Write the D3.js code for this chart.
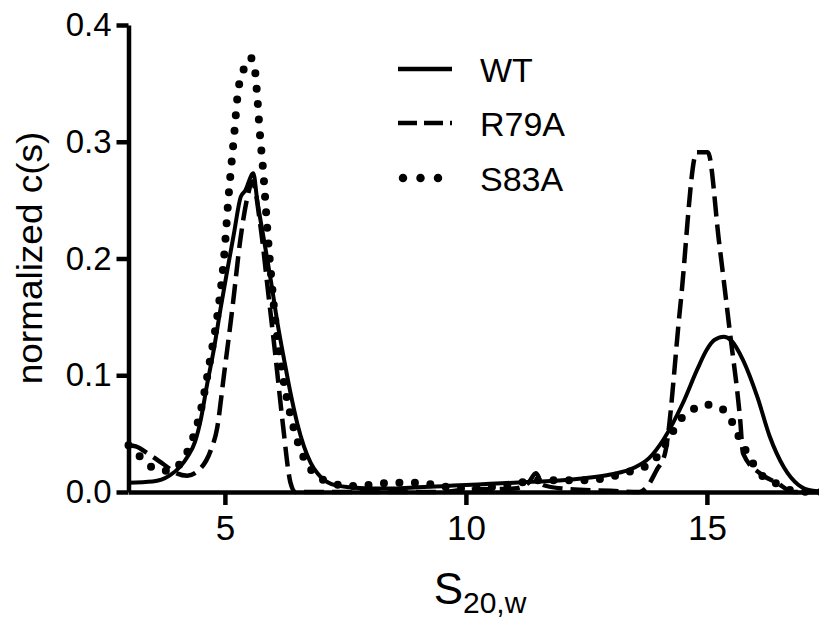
<!DOCTYPE html>
<html lang="en">
<head>
<meta charset="UTF-8" />
<title>normalized c(s)</title>
<script src="https://d3js.org/d3.v7.min.js"></script>
<style>
  body { margin: 0; background: #fff; }
  svg { display: block; font-family: "Liberation Sans", Arial, sans-serif; }
  .axis path, .axis line { stroke: #000; stroke-width: 4.5; }
  .axis text { font-size: 33px; fill: #000; font-family: "Liberation Sans", Arial, sans-serif; }
  .x.axis text { font-size: 35px; }
  .curve { fill: none; stroke: #000; stroke-linejoin: round; }
</style>
</head>
<body>
<svg width="819" height="621"></svg>
<script>
// sedimentation coefficient grid + c(s)
const sWT = [3.0, 3.5, 3.85, 4.08, 4.22, 4.38, 4.5, 4.63, 4.77, 4.91, 5.05, 5.19, 5.33, 5.42, 5.59, 5.67, 5.81, 5.95, 6.09, 6.23, 6.36, 6.5, 6.64, 6.78, 6.92, 7.2, 7.6, 8.0, 8.5, 9.0, 9.5, 10.0, 10.5, 11.0, 11.5, 12.0, 12.5, 13.0, 13.5, 13.8, 14.1, 14.5, 14.8, 15.0, 15.15, 15.35, 15.5, 15.75, 16.05, 16.3, 16.6, 16.9, 17.2, 17.5];
const cWT = [0.008, 0.009, 0.014, 0.022, 0.03, 0.043, 0.062, 0.092, 0.122, 0.157, 0.19, 0.222, 0.253, 0.258, 0.273, 0.25, 0.216, 0.182, 0.145, 0.113, 0.085, 0.059, 0.039, 0.025, 0.016, 0.007, 0.004, 0.003, 0.003, 0.004, 0.005, 0.006, 0.007, 0.008, 0.009, 0.01, 0.012, 0.015, 0.021, 0.029, 0.045, 0.076, 0.105, 0.122, 0.13, 0.133, 0.13, 0.113, 0.081, 0.048, 0.021, 0.006, 0.001, 0];

const sR79A = [3.0, 3.15, 3.4, 3.72, 4.0, 4.22, 4.49, 4.7, 4.84, 4.98, 5.16, 5.32, 5.47, 5.57, 5.74, 5.9, 6.05, 6.2, 6.36, 6.46, 9.5, 10.0, 11.0, 11.3, 11.45, 11.6, 12.0, 13.0, 13.6, 13.75, 13.96, 14.13, 14.45, 14.79, 15.02, 15.25, 15.48, 15.69, 15.75, 16.1, 16.45, 16.8, 17.5];
const cR79A = [0.04, 0.039, 0.033, 0.024, 0.016, 0.014, 0.02, 0.035, 0.055, 0.1, 0.159, 0.216, 0.253, 0.266, 0.227, 0.17, 0.116, 0.059, 0.008, 0, 0, 0.002, 0.003, 0.008, 0.016, 0.006, 0.003, 0.001, 0, 0.004, 0.019, 0.033, 0.16, 0.291, 0.291, 0.215, 0.136, 0.062, 0.033, 0.016, 0.008, 0, 0];

const sS83A = [3.0, 3.25, 3.5, 3.85, 4.1, 4.3, 4.5, 4.7, 4.85, 4.98, 5.08, 5.19, 5.27, 5.39, 5.52, 5.6, 5.66, 5.72, 5.8, 5.88, 5.96, 6.05, 6.2, 6.36, 6.57, 6.85, 7.2, 7.6, 8.0, 8.5, 9.0, 9.5, 10.0, 10.5, 11.0, 11.5, 12.0, 12.5, 13.0, 13.5, 13.85, 14.2, 14.45, 14.72, 14.95, 15.14, 15.43, 15.63, 15.84, 16.1, 16.46, 16.8, 17.2, 17.5];
const cS83A = [0.04, 0.03, 0.021, 0.018, 0.026, 0.042, 0.07, 0.115, 0.153, 0.2, 0.255, 0.305, 0.342, 0.362, 0.372, 0.368, 0.345, 0.31, 0.272, 0.225, 0.185, 0.145, 0.1, 0.066, 0.036, 0.016, 0.008, 0.005, 0.006, 0.008, 0.008, 0.005, 0.003, 0.004, 0.007, 0.01, 0.01, 0.01, 0.013, 0.019, 0.025, 0.045, 0.062, 0.071, 0.075, 0.074, 0.067, 0.05, 0.033, 0.016, 0.007, 0.001, 0, 0];

const seriesNames = ["WT", "R79A", "S83A"];
const xTicks = [5, 10, 15];
const yTicks = [0, 0.1, 0.2, 0.3, 0.4];

const svg = d3.select("svg");

const x = d3.scaleLinear().domain([3, 17.5]).range([128.5, 827.4]);
const y = d3.scaleLinear().domain([0, 0.4]).range([492, 25]);

const styles = {
  WT: { width: 4, dash: null, cap: "butt" },
  R79A: { width: 4.5, dash: "20,8", cap: "butt" },
  S83A: { width: 8, dash: "0,15.5", cap: "round" }
};

const series = [
  { name: "WT", s: sWT, c: cWT },
  { name: "R79A", s: sR79A, c: cR79A },
  { name: "S83A", s: sS83A, c: cS83A }
];

const line = d3.line()
  .x(d => x(d[0]))
  .y(d => y(d[1]))
  .curve(d3.curveMonotoneX);

svg.append("g")
  .selectAll("path")
  .data(series)
  .join("path")
    .attr("class", "curve")
    .attr("d", d => line(d.s.map((v, i) => [v, d.c[i]])))
    .attr("stroke-width", d => styles[d.name].width)
    .attr("stroke-dasharray", d => styles[d.name].dash)
    .attr("stroke-linecap", d => styles[d.name].cap);

// axes
svg.append("g")
  .attr("class", "x axis")
  .attr("transform", "translate(0,492)")
  .call(d3.axisBottom(x).tickValues(xTicks).tickSize(13).tickSizeOuter(0).tickPadding(10));

svg.append("g")
  .attr("class", "y axis")
  .attr("transform", "translate(128.5,0)")
  .call(d3.axisLeft(y).tickValues(yTicks).tickFormat(d3.format(".1f")).tickSize(12).tickSizeOuter(0).tickPadding(5));

// axis titles
svg.append("text")
  .attr("transform", "translate(42,258) rotate(-90) scale(1.12,1.05)")
  .attr("text-anchor", "middle")
  .style("font-size", "33px")
  .text("normalized c(s)");

const xt = svg.append("text")
  .attr("x", 480)
  .attr("y", 604)
  .attr("text-anchor", "middle")
  .style("font-size", "44px");
xt.append("tspan").text("S");
xt.append("tspan").attr("dy", 9).style("font-size", "30px").text("20,w");

// legend
const legendY = [69, 123, 178];
const leg = svg.append("g")
  .selectAll("g")
  .data(seriesNames)
  .join("g")
    .attr("transform", (d, i) => `translate(0,${legendY[i]})`);

leg.append("line")
  .attr("x1", d => d === "S83A" ? 403 : 398)
  .attr("x2", d => d === "S83A" ? 439 : 452)
  .attr("stroke", "#000")
  .attr("stroke-width", d => d === "S83A" ? 8.5 : 4.5)
  .attr("stroke-dasharray", d => d === "R79A" ? "19,7" : d === "S83A" ? "0,17.5" : null)
  .attr("stroke-linecap", d => styles[d].cap);

leg.append("text")
  .attr("x", 480)
  .attr("y", 13)
  .style("font-size", "34px")
  .text(d => d);
</script>
</body>
</html>
